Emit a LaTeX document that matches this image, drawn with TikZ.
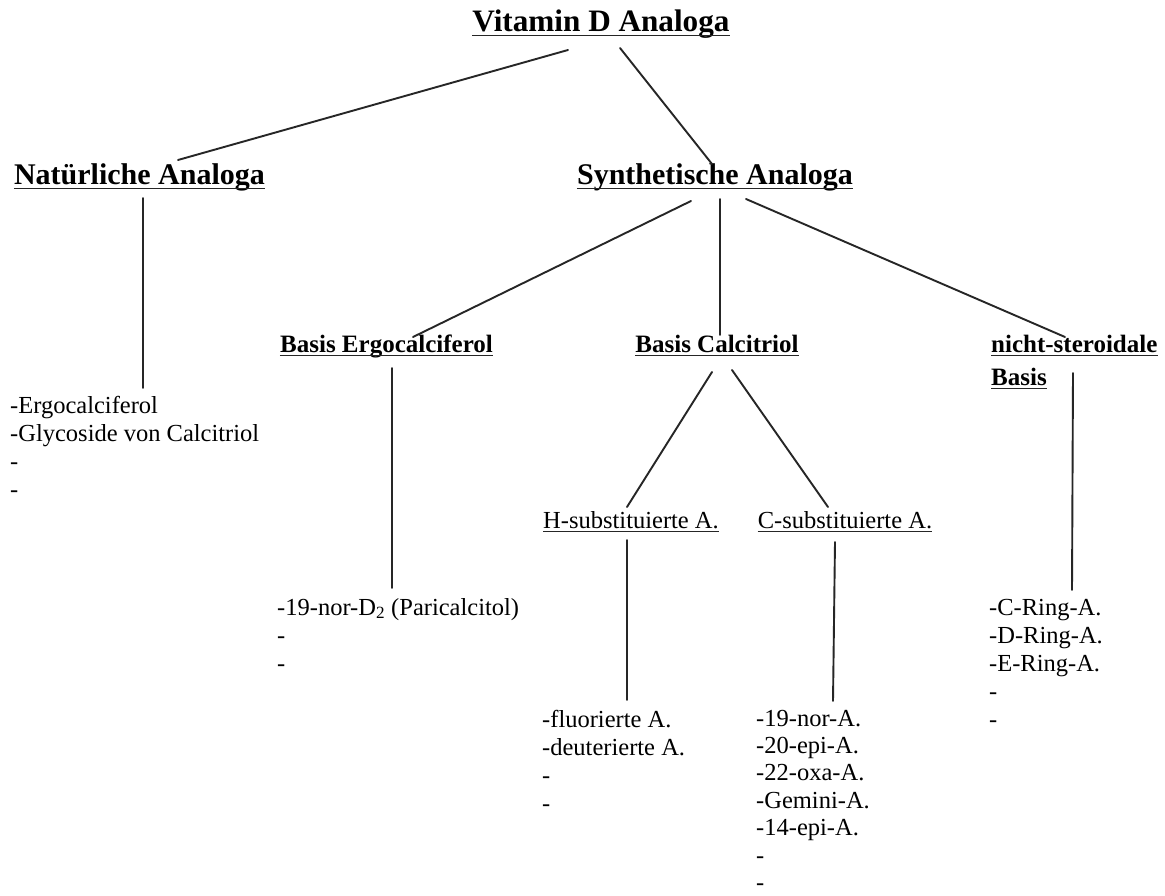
\documentclass[tikz,border=0pt]{standalone}
\usepackage{fontspec}
\setmainfont{Liberation Serif}
\begin{document}
\begin{tikzpicture}[x=1pt,y=-1pt]
\tikzset{
  head/.style={inner sep=0pt, anchor=base, font=\fontsize{30}{36}\selectfont\bfseries},
  sub/.style={inner sep=0pt, font=\fontsize{25}{30}\selectfont\bfseries},
  grp/.style={inner sep=0pt, anchor=base, font=\fontsize{24.5}{28}\selectfont},
  lst/.style={inner sep=0pt, anchor=base west, font=\fontsize{24.5}{28}\selectfont},
  link/.style={line width=1.9pt, line cap=round, draw=black!85},
  bar/.style={line width=1.4pt, draw=black!85},
  thinbar/.style={line width=1.1pt, draw=black!85}
}
\useasboundingbox[fill=white] (0,0) rectangle (1165,896);

% headings
\node[head, font=\fontsize{31.2}{36}\selectfont\bfseries] (top) at (601,32) {Vitamin D Analoga};
\node[head] (nat) at (139.5,185) {Natürliche Analoga};
\node[head] (syn) at (715,185) {Synthetische Analoga};

\node[sub, anchor=base] (ergo) at (386.5,352) {Basis Ergocalciferol};
\node[sub, anchor=base] (calc) at (717,352) {Basis Calcitriol};
\node[sub, anchor=base west] (nichtA) at (991,352) {nicht-steroidale};
\node[sub, anchor=base west] (nichtB) at (991,385) {Basis};

\node[grp] (hsub) at (631,528) {H-substituierte A.};
\node[grp] (csub) at (845,528) {C-substituierte A.};

% underlines
\foreach \n in {top,nat,syn,ergo,calc,nichtA,nichtB}
  \draw[bar] ([yshift=-3.5pt]\n.base west) -- ([yshift=-3.5pt]\n.base east);
\foreach \n in {hsub,csub}
  \draw[thinbar] ([yshift=-3.5pt]\n.base west) -- ([yshift=-3.5pt]\n.base east);

% lists
\node[lst] (natlist) at (10,413) {\vtop{\hbox{-Ergocalciferol}\hbox{-Glycoside von Calcitriol}\hbox{-}\hbox{-}}};
\node[lst] (ergolist) at (277,615) {\vtop{\hbox{-19-nor-D\textsubscript{2} (Paricalcitol)}\hbox{-}\hbox{-}}};
\node[lst] (hlist) at (542,727) {\vtop{\hbox{-fluorierte A.}\hbox{-deuterierte A.}\hbox{-}\hbox{-}}};
\node[lst, font=\fontsize{24.5}{27.4}\selectfont] (clist) at (756,726) {\vtop{\hbox{-19-nor-A.}\hbox{-20-epi-A.}\hbox{-22-oxa-A.}\hbox{-Gemini-A.}\hbox{-14-epi-A.}\hbox{-}\hbox{-}}};
\node[lst] (nlist) at (989,615) {\vtop{\hbox{-C-Ring-A.}\hbox{-D-Ring-A.}\hbox{-E-Ring-A.}\hbox{-}\hbox{-}}};

% connectors
\draw[link] ([xshift=-33pt,yshift=-18pt]top.base) -- ([xshift=38.5pt,yshift=25pt]nat.base);
\draw[link] ([xshift=19pt,yshift=-16pt]top.base) -- ([xshift=-3pt,yshift=21pt]syn.base);
\draw[link] ([xshift=3.5pt,yshift=-13pt]nat.base) -- ([xshift=133pt,yshift=25pt]natlist.base west);

\draw[link] ([xshift=-24pt,yshift=-16pt]syn.base) -- ([xshift=26.5pt,yshift=15pt]ergo.base);
\draw[link] ([xshift=5pt,yshift=-14pt]syn.base) -- ([xshift=3pt,yshift=17pt]calc.base);
\draw[link] ([xshift=31pt,yshift=-14pt]syn.base) -- ([xshift=74pt,yshift=15pt]nichtA.base west);

\draw[link] ([xshift=5.5pt,yshift=-16pt]ergo.base) -- ([xshift=115pt,yshift=27pt]ergolist.base west);
\draw[link] ([xshift=-5pt,yshift=-20pt]calc.base) -- ([xshift=-4pt,yshift=21pt]hsub.base);
\draw[link] ([xshift=15pt,yshift=-18pt]calc.base) -- ([xshift=-17pt,yshift=21pt]csub.base);
\draw[link] ([xshift=82pt,yshift=12pt]nichtB.base west) -- ([xshift=83pt,yshift=25pt]nlist.base west);

\draw[link] ([xshift=-4pt,yshift=-12pt]hsub.base) -- ([xshift=85pt,yshift=27pt]hlist.base west);
\draw[link] ([xshift=-10pt,yshift=-14pt]csub.base) -- ([xshift=77pt,yshift=25pt]clist.base west);
\end{tikzpicture}
\end{document}
